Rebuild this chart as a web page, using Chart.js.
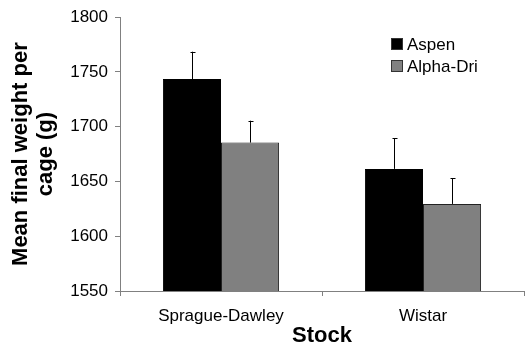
<!DOCTYPE html>
<html><head><meta charset="utf-8">
<script src="https://cdn.jsdelivr.net/npm/chart.js@4/dist/chart.umd.min.js"></script>
<style>html,body{margin:0;padding:0;background:#fff}#wrap{width:526px;height:354px}</style>
</head><body><div id="wrap"><canvas id="c" width="526" height="354"></canvas></div>
<script>
const categories = ["Sprague-Dawley", "Wistar"];
const seriesNames = ["Aspen", "Alpha-Dri"];
const aspenValues = [1743.5, 1661.5];
const aspenErrors = [25, 28];
const alphaDriValues = [1685.5, 1629.5];
const alphaDriErrors = [20, 23.5];
const yTicks = [1550, 1600, 1650, 1700, 1750, 1800];

const FONT = "'Liberation Sans', Arial, sans-serif";
const errorBars = {
  id: 'errorBars',
  afterDatasetsDraw(chart) {
    const ctx = chart.ctx, y = chart.scales.y;
    ctx.save();
    ctx.strokeStyle = '#000'; ctx.lineWidth = 1;
    chart.data.datasets.forEach((ds, di) => {
      const meta = chart.getDatasetMeta(di);
      meta.data.forEach((bar, i) => {
        const x = Math.round(bar.x) + 0.5;
        const y0 = y.getPixelForValue(ds.data[i]);
        const y1 = y.getPixelForValue(ds.data[i] + ds.errors[i]);
        ctx.beginPath();
        ctx.moveTo(x, y0); ctx.lineTo(x, y1);
        ctx.moveTo(x - 2, Math.round(y1) + 0.5); ctx.lineTo(x + 3, Math.round(y1) + 0.5);
        ctx.stroke();
      });
    });
    ctx.restore();
  }
};
const boxLegend = {
  id: 'boxLegend',
  afterDraw(chart) {
    const ctx = chart.ctx;
    ctx.save();
    ctx.font = '17px ' + FONT;
    ctx.textBaseline = 'middle';
    chart.data.datasets.forEach((ds, i) => {
      const bx = 391, by = 38 + i * 22;
      ctx.fillStyle = ds.backgroundColor;
      ctx.fillRect(bx, by, 12, 12);
      ctx.strokeStyle = '#333'; ctx.lineWidth = 1;
      ctx.strokeRect(bx + 0.5, by + 0.5, 11, 11);
      ctx.fillStyle = '#000';
      ctx.fillText(ds.label, 407, by + 7);
    });
    ctx.restore();
  }
};

new Chart(document.getElementById('c'), {
  type: 'bar',
  data: {
    labels: categories,
    datasets: [
      { label: seriesNames[0], data: aspenValues, errors: aspenErrors, backgroundColor: '#000000', borderColor: '#000000', borderWidth: 1 },
      { label: seriesNames[1], data: alphaDriValues, errors: alphaDriErrors, backgroundColor: '#808080', borderColor: '#222222', borderWidth: 1 }
    ]
  },
  options: {
    responsive: false,
    animation: false,
    events: [],
    layout: { padding: { top: 16, right: 2, left: 0, bottom: 0 } },
    datasets: { bar: { categoryPercentage: 0.575, barPercentage: 1.0 } },
    plugins: { legend: { display: false }, tooltip: { enabled: false } },
    scales: {
      x: {
        grid: { offset: true, drawOnChartArea: false, tickLength: 5, color: '#808080' },
        border: { color: '#808080', width: 1 },
        ticks: { font: { family: FONT, size: 17 }, color: '#000', padding: 10 },
        title: { display: true, text: 'Stock', font: { family: FONT, size: 22, weight: 'bold' }, color: '#000', padding: { top: 0, bottom: 5 } },
        afterFit(s) { s.height = 63; }
      },
      y: {
        min: 1550, max: 1800,
        afterBuildTicks(s) { s.ticks = yTicks.map(v => ({ value: v })); },
        grid: { drawOnChartArea: false, tickLength: 5, color: '#808080' },
        border: { color: '#808080', width: 1 },
        ticks: { font: { family: FONT, size: 17 }, color: '#000', padding: 7, callback: v => String(v) },
        title: { display: true, text: ['Mean final weight per', 'cage (g)'], font: { family: FONT, size: 22, weight: 'bold', lineHeight: 1.15 }, color: '#000', padding: { top: 8, bottom: 0 } },
        afterFit(s) { s.width = 120; }
      }
    }
  },
  plugins: [errorBars, boxLegend]
});
</script></body></html>
